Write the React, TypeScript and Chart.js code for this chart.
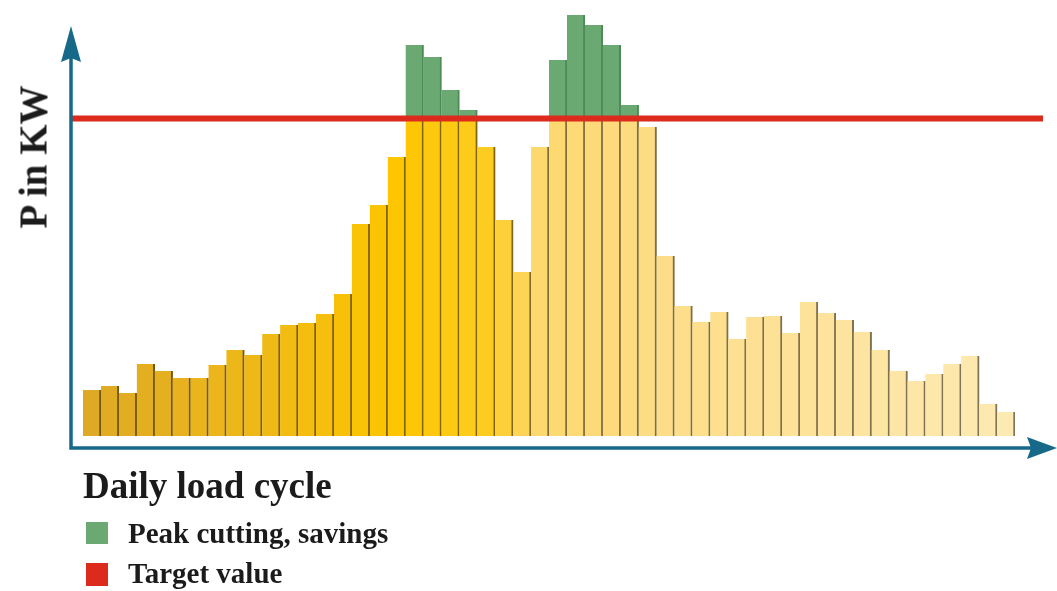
import React, { useEffect, useRef } from "react";
import { Chart, registerables } from "chart.js";

Chart.register(...registerables);

// 52 time slots of the daily load cycle
const slots: string[] = [
  "1", "2", "3", "4", "5", "6", "7", "8", "9", "10",
  "11", "12", "13", "14", "15", "16", "17", "18", "19", "20",
  "21", "22", "23", "24", "25", "26", "27", "28", "29", "30",
  "31", "32", "33", "34", "35", "36", "37", "38", "39", "40",
  "41", "42", "43", "44", "45", "46", "47", "48", "49", "50",
  "51", "52",
];

// Load per slot (P in kW, arbitrary units)
const loads: number[] = [
  46, 50, 43, 72, 65, 58, 58, 71, 86, 81,
  102, 111, 113, 122, 142, 212, 231, 279, 391, 379,
  346, 326, 289, 216, 164, 289, 376, 421, 411, 391,
  331, 309, 180, 130, 114, 124, 97, 119, 120, 103,
  134, 123, 116, 104, 86, 65, 55, 62, 72, 80,
  32, 24,
];

// Target value (red line)
const targetValue = 317.5;
const yMax = 421;

const legendTitle = "Daily load cycle";
const legendPeak = "Peak cutting, savings";
const legendTarget = "Target value";
const yAxisTitle = "P in KW";

// colour stops for the yellow bars (style only)
const colorStops: [number, number[]][] = [
  [0, [222, 170, 38]],
  [10, [240, 186, 22]],
  [17, [253, 198, 0]],
  [22, [253, 204, 32]],
  [25, [253, 216, 110]],
  [33, [253, 222, 138]],
  [51, [253, 233, 178]],
];

function barColor(i: number, dark = 0): string {
  let c = colorStops[colorStops.length - 1][1];
  for (let k = 0; k < colorStops.length - 1; k++) {
    const [a, ca] = colorStops[k];
    const [b, cb] = colorStops[k + 1];
    if (i >= a && i <= b) {
      const t = (i - a) / (b - a);
      c = ca.map((v, j) => v + (cb[j] - v) * t);
      break;
    }
  }
  const f = 1 - dark;
  return `rgb(${Math.round(c[0] * f)},${Math.round(c[1] * f)},${Math.round(c[2] * f)})`;
}

const AXIS = "#17698a";
const RED = "#dc2a1c";
const GREEN = "#6aaa72";
const GREEN_DARK = "#4c8a56";

export default function App() {
  const ref = useRef<HTMLCanvasElement | null>(null);

  useEffect(() => {
    if (!ref.current) return;
    const base = loads.map((v) => Math.min(v, targetValue));
    const peak = loads.map((v) => Math.max(v - targetValue, 0));

    const decor = {
      id: "decor",
      afterDatasetsDraw(chart: any) {
        const ctx = chart.ctx as CanvasRenderingContext2D;
        const y = chart.scales.y;
        const ty = y.getPixelForValue(targetValue);
        ctx.save();
        // target line
        ctx.strokeStyle = RED;
        ctx.lineWidth = 6;
        ctx.beginPath();
        ctx.moveTo(72, ty);
        ctx.lineTo(1043, ty);
        ctx.stroke();
        // axes
        const x0 = 71;
        const y0 = 448;
        ctx.strokeStyle = AXIS;
        ctx.fillStyle = AXIS;
        ctx.lineWidth = 3.5;
        ctx.beginPath();
        ctx.moveTo(x0, y0 + 1.75);
        ctx.lineTo(x0, 55);
        ctx.moveTo(x0 - 1.75, y0);
        ctx.lineTo(1032, y0);
        ctx.stroke();
        // arrow heads
        ctx.beginPath();
        ctx.moveTo(x0, 26);
        ctx.lineTo(x0 + 10, 62);
        ctx.lineTo(x0, 58);
        ctx.lineTo(x0 - 10, 62);
        ctx.closePath();
        ctx.fill();
        ctx.beginPath();
        ctx.moveTo(1057, y0);
        ctx.lineTo(1027, y0 - 11);
        ctx.lineTo(1031, y0);
        ctx.lineTo(1027, y0 + 11);
        ctx.closePath();
        ctx.fill();
        ctx.restore();
      },
    };

    const chart = new Chart(ref.current, {
      type: "bar",
      data: {
        labels: slots,
        datasets: [
          {
            label: "Load",
            data: base,
            backgroundColor: loads.map((_, i) => barColor(i)),
            borderColor: loads.map((_, i) => barColor(i, 0.5)),
            borderWidth: { left: 0, right: 2, top: 0, bottom: 0 },
            borderSkipped: false,
            barPercentage: 1,
            categoryPercentage: 1,
            stack: "s",
          },
          {
            label: legendPeak,
            data: peak,
            backgroundColor: GREEN,
            borderColor: GREEN_DARK,
            borderWidth: { left: 0, right: 2, top: 0, bottom: 0 },
            borderSkipped: false,
            barPercentage: 1,
            categoryPercentage: 1,
            stack: "s",
          },
        ],
      },
      options: {
        responsive: false,
        animation: false,
        layout: { padding: { left: 83, right: 42, top: 15, bottom: 155 } },
        plugins: {
          legend: { display: false },
          tooltip: { enabled: false },
          title: { display: false },
        },
        scales: {
          x: { display: false, stacked: true, offset: true },
          y: { display: false, stacked: true, min: 0, max: yMax },
        },
      },
      plugins: [decor],
    });
    return () => chart.destroy();
  }, []);

  const serif = "'Liberation Serif', 'Times New Roman', serif";
  const txt: React.CSSProperties = {
    position: "absolute",
    fontFamily: serif,
    fontWeight: 700,
    color: "#1b1b1b",
    lineHeight: 1,
    whiteSpace: "nowrap",
  };

  return (
    <div
      style={{
        position: "fixed",
        left: 0,
        top: 0,
        width: 1057,
        height: 591,
        background: "#ffffff",
        overflow: "hidden",
      }}
    >
      <canvas ref={ref} width={1057} height={591} style={{ display: "block" }} />
      <div
        style={{
          ...txt,
          fontSize: 39,
          left: 33,
          top: 157,
          transform: "translate(-50%, -50%) rotate(-90deg)",
        }}
      >
        {yAxisTitle}
      </div>
      <div style={{ ...txt, fontSize: 37, left: 83, top: 467 }}>{legendTitle}</div>
      <div style={{ position: "absolute", left: 86, top: 522, width: 22, height: 22, background: GREEN }} />
      <div style={{ ...txt, fontSize: 29, left: 128, top: 519 }}>{legendPeak}</div>
      <div style={{ position: "absolute", left: 86, top: 563, width: 22, height: 23, background: RED }} />
      <div style={{ ...txt, fontSize: 29, left: 128, top: 559 }}>{legendTarget}</div>
    </div>
  );
}
